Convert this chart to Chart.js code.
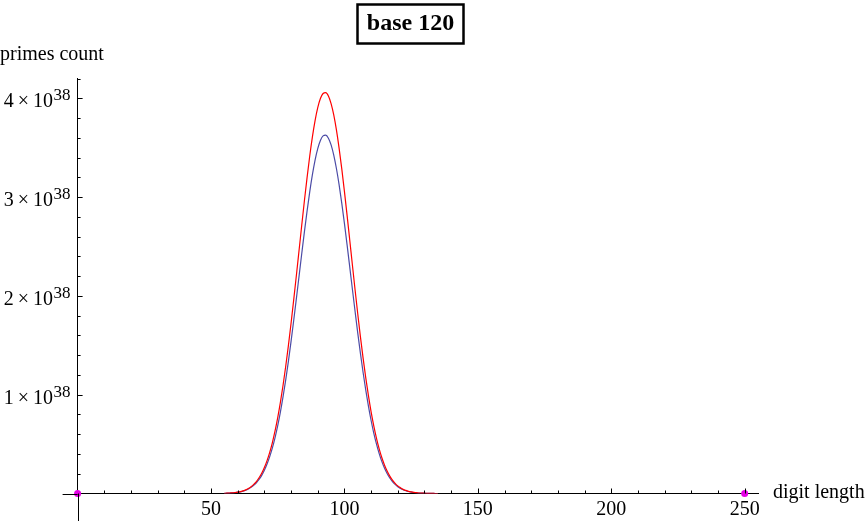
<!DOCTYPE html>
<html>
<head>
<meta charset="utf-8">
<script src="https://cdn.jsdelivr.net/npm/chart.js@4/dist/chart.umd.min.js"></script>
<style>
	html, body { margin: 0; padding: 0; background: #fff; }
	#chart { display: block; }
</style>
</head>
<body>
<canvas id="chart" width="867" height="521"></canvas>
<script>

// digit length (base 120) and primes count, in units of 10^38
var digits = [
	55, 56, 57, 58, 59, 60, 61, 62, 63, 64,
	65, 66, 67, 68, 69, 70, 71, 72, 73, 74,
	75, 76, 77, 78, 79, 80, 81, 82, 83, 84,
	85, 86, 87, 88, 89, 90, 91, 92, 93, 94,
	95, 96, 97, 98, 99, 100, 101, 102, 103, 104,
	105, 106, 107, 108, 109, 110, 111, 112, 113, 114,
	115, 116, 117, 118, 119, 120, 121, 122, 123, 124,
	125, 126, 127, 128, 129, 130, 131, 132, 133, 134, 135
];

var redCounts = [
	0.002, 0.003, 0.005, 0.007, 0.010, 0.014, 0.019, 0.027, 0.037, 0.051,
	0.069, 0.092, 0.121, 0.159, 0.205, 0.263, 0.333, 0.417, 0.516, 0.633,
	0.768, 0.922, 1.096, 1.288, 1.497, 1.723, 1.962, 2.209, 2.462, 2.715,
	2.963, 3.198, 3.416, 3.610, 3.775, 3.906, 3.998, 4.049, 4.058, 4.024,
	3.947, 3.832, 3.680, 3.497, 3.288, 3.058, 2.815, 2.564, 2.310, 2.060,
	1.817, 1.586, 1.370, 1.170, 0.990, 0.827, 0.685, 0.561, 0.454, 0.364,
	0.289, 0.227, 0.176, 0.135, 0.103, 0.077, 0.058, 0.042, 0.031, 0.022,
	0.016, 0.011, 0.008, 0.005, 0.004, 0.003, 0.002, 0.001, 0.001, 0, 0
];

var blueCounts = [
	0.002, 0.003, 0.004, 0.006, 0.009, 0.013, 0.017, 0.024, 0.033, 0.046,
	0.062, 0.082, 0.108, 0.142, 0.183, 0.235, 0.298, 0.373, 0.461, 0.566,
	0.687, 0.824, 0.980, 1.151, 1.338, 1.540, 1.754, 1.975, 2.201, 2.427,
	2.649, 2.859, 3.054, 3.227, 3.375, 3.492, 3.574, 3.620, 3.628, 3.597,
	3.529, 3.426, 3.290, 3.126, 2.939, 2.734, 2.517, 2.292, 2.065, 1.842,
	1.624, 1.418, 1.225, 1.046, 0.885, 0.739, 0.612, 0.502, 0.406, 0.325,
	0.258, 0.203, 0.157, 0.121, 0.092, 0.069, 0.052, 0.038, 0.028, 0.020,
	0.014, 0.010, 0.007, 0.004, 0.004, 0.003, 0.002, 0.001, 0.001, 0, 0
];

var markerDigits = [0, 250];
var markerCounts = [0, 0];

var xTickLabels = [50, 100, 150, 200, 250];
var yTickValues = [1, 2, 3, 4];
var yExponent = '38';

var chartTitle = 'base 120';
var yAxisTitle = 'primes count';
var xAxisTitle = 'digit length';

var serif = "'Liberation Serif', 'DejaVu Serif', serif";

function toPoints(xs, ys) {
	var pts = [];
	for (var i = 0; i < xs.length; i++) {
		pts.push({ x: xs[i], y: ys[i] });
	}
	return pts;
}

// Mathematica style decoration: inward ticks, axis overhang, labels at axis ends, boxed title
var mmaFrame = {
	id: 'mmaFrame',
	afterDraw: function(chart) {
		var ctx = chart.ctx;
		var xs = chart.scales.x;
		var ys = chart.scales.y;
		var area = chart.chartArea;
		var x0 = xs.getPixelForValue(0);
		var y0 = ys.getPixelForValue(0);

		ctx.save();
		ctx.strokeStyle = '#000';
		ctx.lineWidth = 1;

		// axis overhang past the origin
		ctx.beginPath();
		ctx.moveTo(area.left - 15, Math.round(y0) + 0.5);
		ctx.lineTo(area.left, Math.round(y0) + 0.5);
		ctx.moveTo(Math.round(x0) + 0.5, area.bottom);
		ctx.lineTo(Math.round(x0) + 0.5, chart.height);
		ctx.stroke();

		// x ticks, minor every 10
		ctx.beginPath();
		for (var v = 10; v <= xs.max; v += 10) {
			var px = Math.round(xs.getPixelForValue(v)) + 0.5;
			var len = (v % 50 === 0) ? 5 : 3;
			ctx.moveTo(px, y0);
			ctx.lineTo(px, y0 - len);
		}
		// y ticks, minor every 0.2
		for (var k = 1; k <= 21; k++) {
			var val = k * 0.2;
			if (val > ys.max + 0.001) break;
			var py = Math.round(ys.getPixelForValue(val)) + 0.5;
			var ylen = (k % 5 === 0) ? 5 : 3;
			ctx.moveTo(x0, py);
			ctx.lineTo(x0 + ylen, py);
		}
		ctx.stroke();

		// y tick labels  n×10^38
		ctx.fillStyle = '#000';
		ctx.textAlign = 'right';
		ctx.textBaseline = 'alphabetic';
		yTickValues.forEach(function(n) {
			var py = ys.getPixelForValue(n);
			var right = x0 - 7;
			ctx.font = '17px ' + serif;
			ctx.fillText(yExponent, right, py + 2);
			var w = ctx.measureText(yExponent).width;
			ctx.font = '20px ' + serif;
			ctx.fillText(n + '\u2009\u00d7\u200910', right - w - 0.5, py + 9);
		});

		// axis titles
		ctx.font = '20px ' + serif;
		ctx.textAlign = 'left';
		ctx.fillText(yAxisTitle, 0, 60);
		ctx.fillText(xAxisTitle, 773, 498);

		// boxed title
		ctx.font = 'bold 24px ' + serif;
		ctx.textAlign = 'center';
		ctx.fillText(chartTitle, 410.5, 30);
		ctx.lineWidth = 2.5;
		ctx.strokeRect(357.5, 4.5, 106, 39);

		ctx.restore();
	}
};

var ctx = document.getElementById('chart').getContext('2d');

var myChart = new Chart(ctx, {
	type: 'line',
	data: {
		datasets: [{
			label: 'ends',
			data: toPoints(markerDigits, markerCounts),
			showLine: false,
			pointRadius: 3.5,
			pointBackgroundColor: '#e600e6',
			pointBorderWidth: 0,
			clip: false
		}, {
			label: 'red',
			data: toPoints(digits, redCounts),
			borderColor: '#ff0000',
			borderWidth: 1.2,
			pointRadius: 0,
			cubicInterpolationMode: 'monotone',
			fill: false
		}, {
			label: 'blue',
			data: toPoints(digits, blueCounts),
			borderColor: '#4b4ba6',
			borderWidth: 1.2,
			pointRadius: 0,
			cubicInterpolationMode: 'monotone',
			fill: false
		}]
	},
	options: {
		responsive: false,
		animation: false,
		layout: {
			padding: { left: 0, right: 109, top: 78.6, bottom: 0 }
		},
		plugins: {
			legend: { display: false },
			tooltip: { enabled: false },
			title: { display: false }
		},
		scales: {
			x: {
				type: 'linear',
				min: 0,
				max: 255,
				afterFit: function(scale) { scale.height = 27.5; },
				afterBuildTicks: function(scale) {
					scale.ticks = xTickLabels.map(function(v) { return { value: v }; });
				},
				grid: { display: false, drawTicks: false, tickLength: 0 },
				border: { display: true, color: '#000', width: 1 },
				ticks: {
					autoSkip: false,
					maxRotation: 0,
					padding: 4,
					color: '#000',
					font: { family: serif, size: 20 }
				}
			},
			y: {
				type: 'linear',
				min: 0,
				max: 4.2,
				afterFit: function(scale) { scale.width = 77.6; },
				grid: { display: false },
				border: { display: true, color: '#000', width: 1 },
				ticks: { display: false }
			}
		}
	},
	plugins: [mmaFrame]
});

</script>
</body>
</html>
